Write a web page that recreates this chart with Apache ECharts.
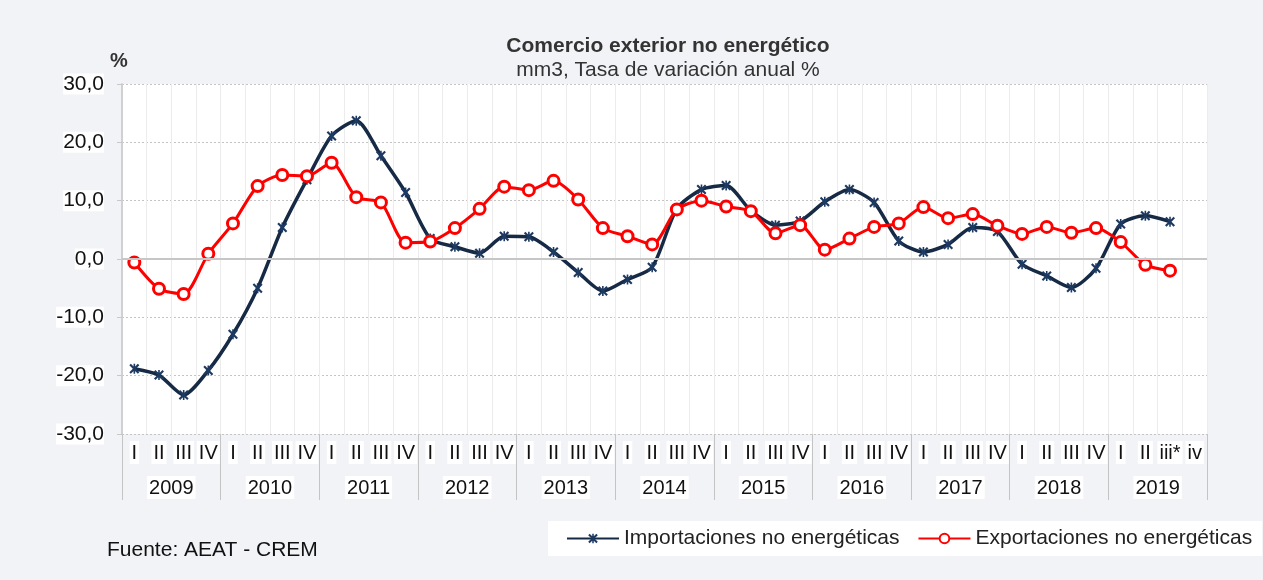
<!DOCTYPE html>
<html>
<head>
<meta charset="utf-8">
<script src="https://cdn.jsdelivr.net/npm/echarts@6/dist/echarts.min.js"></script>
<style>
  html, body { margin: 0; padding: 0; background: #f2f3f7; }
  #chart { width: 1263px; height: 580px; }
</style>
</head>
<body>
<div id="chart"></div>
<script>
const quarters = ['I', 'II', 'III', 'IV', 'I', 'II', 'III', 'IV', 'I', 'II', 'III', 'IV',
  'I', 'II', 'III', 'IV', 'I', 'II', 'III', 'IV', 'I', 'II', 'III', 'IV',
  'I', 'II', 'III', 'IV', 'I', 'II', 'III', 'IV', 'I', 'II', 'III', 'IV',
  'I', 'II', 'III', 'IV', 'I', 'II', 'iii*', 'iv']
const years = ['2009', '2010', '2011', '2012', '2013', '2014', '2015', '2016', '2017', '2018', '2019']

const importaciones = [-18.8, -19.9, -23.3, -19.1, -12.9, -5.0, 5.4, 13.6, 21.1, 23.7, 17.7, 11.4,
  3.5, 2.1, 1.0, 3.9, 3.8, 1.2, -2.3, -5.5, -3.5, -1.4, 8.6, 11.9,
  12.6, 8.3, 5.8, 6.5, 9.8, 11.9, 9.7, 3.1, 1.2, 2.5, 5.4, 4.7,
  -0.9, -2.9, -4.9, -1.6, 6.0, 7.4, 6.4, null]
const exportaciones = [-0.6, -5.1, -6.0, 0.9, 6.1, 12.5, 14.4, 14.2, 16.5, 10.6, 9.7, 2.8,
  3.0, 5.3, 8.6, 12.4, 11.8, 13.4, 10.2, 5.3, 3.9, 2.5, 8.5, 10.0,
  9.0, 8.2, 4.4, 5.8, 1.6, 3.5, 5.5, 6.1, 8.9, 7.0, 7.7, 5.7,
  4.3, 5.5, 4.5, 5.3, 2.9, -1.0, -2.0, null]

const FONT = '"Liberation Sans", Arial, sans-serif'
// cruz con barra vertical (marcador tipo asterisco)
const asterisco = 'path://M0,1.5 L1.5,0 L5,3.5 L8.5,0 L10,1.5 L6.5,5 L10,8.5 L8.5,10 L5,6.5 L1.5,10 L0,8.5 L3.5,5 Z M4.2,0 L5.8,0 L5.8,10 L4.2,10 Z'

let myChart = echarts.init(document.getElementById('chart'))
let option = {
  backgroundColor: '#f2f3f7',
  animation: false,
  textStyle: { fontFamily: FONT },
  graphic: [
    {
      type: 'text', x: 668, y: 46,
      style: { text: 'Comercio exterior no energético', fontFamily: FONT, fontSize: 21, fontWeight: 'bold', fill: '#333', align: 'center', verticalAlign: 'middle' },
    },
    {
      type: 'text', x: 668, y: 70,
      style: { text: 'mm3, Tasa de variación anual %', fontFamily: FONT, fontSize: 21, fill: '#333', align: 'center', verticalAlign: 'middle' },
    },
    {
      type: 'text', x: 119, y: 61,
      style: { text: '%', fontFamily: FONT, fontSize: 20, fontWeight: 'bold', fill: '#333', align: 'center', verticalAlign: 'middle' },
    },
    {
      type: 'text', x: 107, y: 550,
      style: { text: 'Fuente: AEAT - CREM', fontFamily: FONT, fontSize: 21, fill: '#111', verticalAlign: 'middle' },
    },
  ],
  legend: {
    left: 548,
    top: 521,
    padding: [7, 10, 7, 18],
    backgroundColor: '#fff',
    itemWidth: 52,
    itemHeight: 12,
    itemGap: 18,
    textStyle: { fontSize: 21, color: '#222', fontFamily: FONT },
    data: ['Importaciones no energéticas', 'Exportaciones no energéticas'],
  },
  grid: {
    left: 122,
    right: 56,
    top: 84,
    bottom: 146,
    show: true,
    backgroundColor: '#fff',
    borderWidth: 0,
  },
  xAxis: [
    {
      type: 'category',
      data: quarters,
      boundaryGap: true,
      axisLine: { show: false },
      axisTick: { show: false },
      splitLine: { show: true, interval: 0, lineStyle: { color: '#ececec', width: 1 } },
      axisLabel: {
        interval: 0,
        margin: 7,
        fontSize: 20,
        color: '#111',
        backgroundColor: '#fff',
        padding: [2, 2, 1, 2],
      },
    },
    {
      type: 'category',
      data: years,
      position: 'bottom',
      boundaryGap: true,
      axisLine: { show: false },
      axisTick: { show: true, interval: 0, length: 66, lineStyle: { color: '#c4c4c4', width: 1 } },
      splitLine: { show: false },
      axisLabel: {
        interval: 0,
        margin: 42,
        fontSize: 20,
        color: '#111',
        backgroundColor: '#fff',
        padding: [2, 2, 1, 2],
      },
    },
  ],
  yAxis: {
    type: 'value',
    min: -30,
    max: 30,
    interval: 10,
    axisLine: { show: true, lineStyle: { color: '#d0d0d0', width: 2 } },
    axisTick: { show: true, length: 5, lineStyle: { color: '#c8c8c8' } },
    splitLine: { show: true, lineStyle: { color: '#c4c4c4', type: [2, 2], width: 1 } },
    axisLabel: {
      margin: 18,
      fontSize: 21,
      color: '#111',
      backgroundColor: '#fff',
      formatter: (v) => v.toFixed(1).replace('.', ','),
    },
  },
  series: [
    {
      name: 'cero',
      type: 'line',
      data: [],
      z: 1,
      silent: true,
      markLine: {
        silent: true,
        symbol: 'none',
        label: { show: false },
        lineStyle: { color: '#c6c6c6', type: 'solid', width: 2 },
        data: [{ yAxis: 0 }],
      },
    },
    {
      name: 'Importaciones no energéticas',
      type: 'line',
      data: importaciones,
      z: 3,
      smooth: 0.25,
      symbol: asterisco,
      symbolSize: 10,
      lineStyle: { color: '#172a45', width: 3.5 },
      itemStyle: { color: '#1d3a63' },
    },
    {
      name: 'Exportaciones no energéticas',
      type: 'line',
      data: exportaciones,
      z: 4,
      smooth: 0.25,
      symbol: 'circle',
      symbolSize: 11,
      lineStyle: { color: '#ff0000', width: 3 },
      itemStyle: { color: '#fff', borderColor: '#ff0000', borderWidth: 3 },
    },
  ],
}

option && myChart.setOption(option)
</script>
</body>
</html>
